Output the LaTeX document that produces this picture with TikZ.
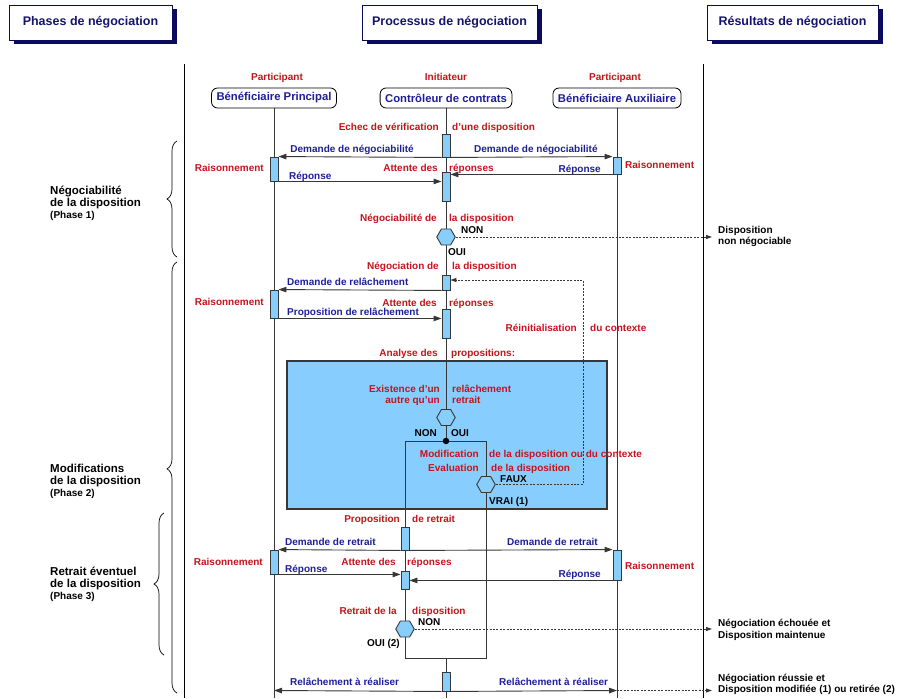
\documentclass[tikz,border=0pt]{standalone}
\usepackage{fontspec}
\setmainfont{Liberation Sans}
\usetikzlibrary{arrows.meta,shapes.geometric,decorations.pathreplacing,shadows}
\definecolor{txtred}{RGB}{196,20,28}
\definecolor{txtblue}{RGB}{30,30,150}
\definecolor{titleblue}{RGB}{20,20,110}
\definecolor{actfill}{RGB}{135,206,250}
\definecolor{boxfill}{RGB}{135,206,255}
\definecolor{linegray}{RGB}{55,55,55}
\definecolor{shadownavy}{RGB}{10,10,95}
\pgfdeclarelayer{bgbox}
\pgfdeclarelayer{bglines}
\pgfsetlayers{bgbox,bglines,main}
\begin{document}
\begin{tikzpicture}[x=1pt,y=-1pt,
  every node/.style={font=\fontsize{10}{11.5}\selectfont\bfseries},
  lr/.style={text=txtred, inner sep=0pt, anchor=base east},
  rr/.style={text=txtred, inner sep=0pt, anchor=base west},
  cr/.style={text=txtred, inner sep=0pt, anchor=base},
  lb/.style={text=txtblue, inner sep=0pt, anchor=base east},
  rb/.style={text=txtblue, inner sep=0pt, anchor=base west},
  lk/.style={text=black, inner sep=0pt, anchor=base east},
  rk/.style={text=black, inner sep=0pt, anchor=base west},
  title/.style={draw=shadownavy, line width=0.8pt, fill=white, minimum height=35pt, inner sep=0pt,
    text=titleblue, font=\fontsize{12.5}{14}\selectfont\bfseries,
    general shadow={fill=shadownavy, shadow xshift=4.5pt, shadow yshift=-4.5pt}},
  head/.style={draw=black, line width=0.8pt, rounded corners=6pt, fill=white, minimum height=20pt,
    inner xsep=5pt, inner ysep=0pt, text=txtblue, font=\fontsize{11.3}{13}\selectfont\bfseries},
  act/.style={draw=linegray, fill=actfill, line width=0.9pt, minimum width=8pt, inner sep=0pt},
  hexa/.style={regular polygon, regular polygon sides=6, draw=linegray, fill=actfill,
    minimum size=18.5pt, inner sep=0pt, line width=0.9pt},
  life/.style={draw=linegray, line width=0.9pt},
  border/.style={draw=black, line width=0.9pt},
  msg/.style={draw=linegray, line width=0.9pt, -{Triangle[length=8pt,width=5.5pt]}},
  dots/.style={draw=linegray, line width=0.9pt, dash pattern=on 2pt off 1.4pt,
    -{Triangle[length=6pt,width=4pt]}},
  dotline/.style={draw=linegray, line width=0.9pt, dash pattern=on 2pt off 1.4pt},
  phase/.style={anchor=west, align=left, inner sep=0pt, text=black,
    font=\fontsize{11.5}{12}\selectfont\bfseries},
  res/.style={anchor=west, align=left, inner sep=0pt, text=black,
    font=\fontsize{10}{11.5}\selectfont\bfseries},
  brc/.style={draw=black, line width=0.7pt, decorate, decoration={brace, amplitude=10pt}}
]
\useasboundingbox (0,0) rectangle (901,698);

% ---------- titles ----------
\node[title, minimum width=163pt] (ph) at (90.5,22.5) {Phases de négociation};
\node[title, minimum width=175pt] (pr) at (449.5,22.5) {Processus de négociation};
\node[title, minimum width=171pt] (rs) at (792.5,22.5) {Résultats de négociation};

% ---------- borders ----------
\coordinate (bl1) at (184,64);
\coordinate (bl2) at (184,698);
\coordinate (br1) at (703,64);
\coordinate (br2) at (703,698);
\draw[border] (bl1) -- (bl2);
\draw[border] (br1) -- (br2);

% ---------- roles and heads ----------
\node[cr] (pa1) at (277,80.5) {Participant};
\node[cr] (ini) at (446,80.5) {Initiateur};
\node[cr] (pa2) at (615,80.5) {Participant};
\node[head] (bp) at (274,98) {Bénéficiaire Principal};
\node[head] (cc) at (446,98) {Contrôleur de contrats};
\node[head] (ba) at (617,98) {Bénéficiaire Auxiliaire};

% ---------- activations and decisions ----------
\node[act, minimum height=23pt] (a1) at (446,145.5) {};
\node[act, minimum height=24pt] (l1) at (274,169) {};
\node[act, minimum height=17pt] (r1) at (617,165.5) {};
\node[act, minimum height=29pt] (a2) at (446,186.5) {};
\node[hexa] (h1) at (446,237) {};
\node[act, minimum height=15pt] (a3) at (446,282.5) {};
\node[act, minimum height=28pt] (l2) at (274,304) {};
\node[act, minimum height=29pt] (a4) at (446,323.5) {};
\node[hexa] (h2) at (446,417.5) {};
\node[circle, fill=black, inner sep=0pt, minimum size=6.5pt] (dot) at (446,441) {};
\node[hexa] (h3) at (486,484.5) {};
\node[act, minimum height=23pt] (a5) at (405,538.5) {};
\node[act, minimum height=24pt] (l3) at (274,562) {};
\node[act, minimum height=30pt] (r3) at (617,565) {};
\node[act, minimum height=18pt] (a6) at (405,580) {};
\node[hexa] (h4) at (405,629) {};
\node[act, minimum height=19pt] (a7) at (446,681.5) {};

% ---------- free ends ----------
\coordinate (bpEnd) at (274,698);
\coordinate (baEnd) at (617,698);
\coordinate (ccEnd) at (446,698);
\coordinate (dL) at (405,441);
\coordinate (dR) at (486,441);
\coordinate (mL) at (405,658);
\coordinate (mR) at (486,658);
\coordinate (merge) at (446,658);
\coordinate (res1) at (712,237);
\coordinate (res2) at (712,629);
\coordinate (res3) at (712,690.5);
\coordinate (bpArr) at (274,690.5);
\coordinate (baArr) at (617,690.5);
\coordinate (rc1) at (583,484.5);
\coordinate (rc2) at (583,280);

% ---------- analysis box ----------
\begin{pgfonlayer}{bgbox}
\fill[boxfill] (287,361) rectangle (607,509);
\draw[draw=linegray, line width=1.1pt] (287,361) rectangle (607,509);
\end{pgfonlayer}

% ---------- lifelines ----------
\begin{pgfonlayer}{bglines}
\draw[life] (bp.south) -- (bpEnd);
\draw[life] (ba.south) -- (baEnd);
\draw[life] (cc.south) -- (dot.center);
\draw[life] (dot.center) -- (dL) -- (h4.center);
\draw[life] (dot.center) -- (dR) -- (h3.center);
\draw[life] (h4.center) -- (mL) -- (mR) -- (h3.center);
\draw[life] (merge) -- (ccEnd);
\end{pgfonlayer}

% ---------- messages ----------
\draw[msg] (a1.south west) -- (l1.north east);
\draw[msg] (a1.south east) -- (r1.north west);
\draw[msg] (l1.south east) -- (l1.south east -| a2.west);
\draw[msg] (r1.south west) -- (r1.south west -| a2.east);
\draw[msg] (a3.south west) -- (l2.north east);
\draw[msg] (l2.south east) -- (l2.south east -| a4.west);
\draw[msg] (a5.south west) -- (l3.north east);
\draw[msg] (a5.south east) -- (r3.north west);
\draw[msg] (l3.south east) -- (l3.south east -| a6.west);
\draw[msg] (r3.south west) -- (r3.south west -| a6.east);
\draw[msg] (a7.south west) -- (bpArr);
\draw[msg] (a7.south east) -- (baArr);

% ---------- dotted results ----------
\draw[dots] (h1.east) -- (res1);
\draw[dots] (h4.east) -- (res2);
\draw[dots] (baArr) -- (res3);
\draw[dots] (h3.east) -- (rc1) -- (rc2) -- (rc2 -| a3.east);

% ---------- labels on the initiator line ----------
\node[lr] (t1l) at (439,130.5) {Echec de vérification};
\node[rr] (t1r) at (452,130.5) {d'une disposition};
\node[lb] (m1l) at (414,152) {Demande de négociabilité};
\node[rb] (m1r) at (474,152) {Demande de négociabilité};
\node[lr] (t2l) at (438,171.5) {Attente des};
\node[rr] (t2r) at (449,171.5) {réponses};
\node[lr] (rs1l) at (264,171.5) {Raisonnement};
\node[rr] (rs1r) at (625,168.5) {Raisonnement};
\node[rb] (m2l) at (289,179) {Réponse};
\node[lb] (m2r) at (601,172) {Réponse};
\node[lr] (t3l) at (437,221.5) {Négociabilité de};
\node[rr] (t3r) at (449,221.5) {la disposition};
\node[rk] (non1) at (461,233.5) {NON};
\node[rk] (oui1) at (448,255.5) {OUI};
\node[res] (o1) at (718,236.5) {Disposition\\non négociable};
\node[lr] (t4l) at (439,269.5) {Négociation de};
\node[rr] (t4r) at (452,269.5) {la disposition};
\node[rb] (m3) at (287,285.5) {Demande de relâchement};
\node[lr] (rs2) at (264,305) {Raisonnement};
\node[lr] (t5l) at (437,306.5) {Attente des};
\node[rr] (t5r) at (449,306.5) {réponses};
\node[rb] (m4) at (287,315) {Proposition de relâchement};
\node[lr] (t6l) at (577,331.5) {Réinitialisation};
\node[rr] (t6r) at (590,331.5) {du contexte};
\node[lr] (t7l) at (438,356.5) {Analyse des};
\node[rr] (t7r) at (451,356.5) {propositions:};
\node[lr] (t8l) at (440,392.5) {Existence d'un};
\node[rr] (t8r) at (452,392.5) {relâchement};
\node[lr] (t9l) at (440,403) {autre qu'un};
\node[rr] (t9r) at (452,403) {retrait};
\node[lk] (non2) at (437,436.5) {NON};
\node[rk] (oui2) at (451,436.5) {OUI};
\node[lr] (t10l) at (479,457.5) {Modification};
\node[rr] (t10r) at (489,457.5) {de la disposition ou du contexte};
\node[lr] (t11l) at (479,471.5) {Evaluation};
\node[rr] (t11r) at (491,471.5) {de la disposition};
\node[rk] (faux) at (500,482.5) {FAUX};
\node[rk] (vrai) at (489,504.5) {VRAI (1)};
\node[lr] (t12l) at (400,522.5) {Proposition};
\node[rr] (t12r) at (412,522.5) {de retrait};
\node[rb] (m5l) at (285,545.5) {Demande de retrait};
\node[rb] (m5r) at (507,545.5) {Demande de retrait};
\node[lr] (rs3l) at (263,565.5) {Raisonnement};
\node[rr] (rs3r) at (625,569.5) {Raisonnement};
\node[lr] (t13l) at (396,565.5) {Attente des};
\node[rr] (t13r) at (407,565.5) {réponses};
\node[rb] (m6l) at (285,572) {Réponse};
\node[lb] (m6r) at (601,577.5) {Réponse};
\node[lr] (t14l) at (397,614.5) {Retrait de la};
\node[rr] (t14r) at (412,614.5) {disposition};
\node[rk] (non3) at (418,625.5) {NON};
\node[lk] (oui3) at (400,646.5) {OUI (2)};
\node[res] (o2) at (718,630) {Négociation échouée et\\Disposition maintenue};
\node[rb] (m7l) at (290,685.5) {Relâchement à réaliser};
\node[rb] (m7r) at (499,685.5) {Relâchement à réaliser};
\node[res] (o3) at (718,684.5) {Négociation réussie et\\Disposition modifiée (1) ou retirée (2)};

% ---------- phases ----------
\coordinate (b1a) at (177,257);
\coordinate (b1b) at (177,141);
\coordinate (b2a) at (177,693);
\coordinate (b2b) at (177,262);
\coordinate (b3a) at (164,655);
\coordinate (b3b) at (164,513);
\draw[brc] (b1a) -- (b1b);
\draw[brc, decoration={aspect=0.52}] (b2a) -- (b2b);
\draw[brc] (b3a) -- (b3b);
\node[phase] (p1) at (50,203) {Négociabilité\\de la disposition\\{\fontsize{10}{12}\selectfont (Phase 1)}};
\node[phase] (p2) at (50,481) {Modifications\\de la disposition\\{\fontsize{10}{12}\selectfont (Phase 2)}};
\node[phase] (p3) at (50,584) {Retrait éventuel\\de la disposition\\{\fontsize{10}{12}\selectfont (Phase 3)}};
\end{tikzpicture}
\end{document}
